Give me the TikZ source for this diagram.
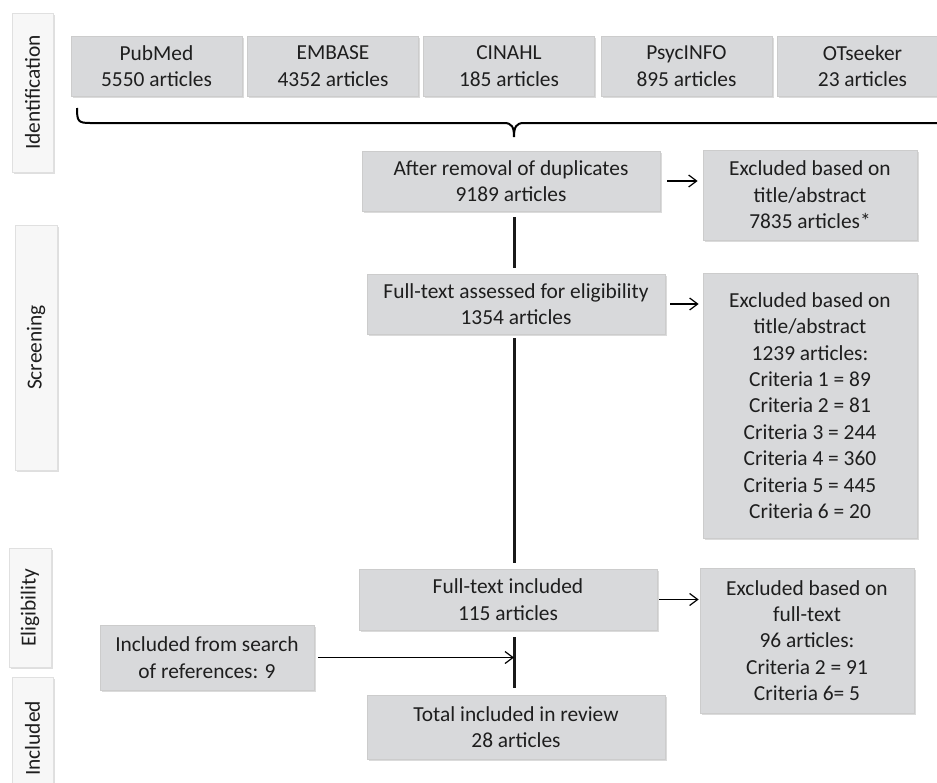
\documentclass[tikz,border=0pt]{standalone}
\usepackage{fontspec}
\setmainfont{Carlito}
\usetikzlibrary{arrows.meta,shadows}

\definecolor{boxgray}{RGB}{216,217,219}
\definecolor{sidegray}{RGB}{247,247,247}
\definecolor{inkgray}{RGB}{30,30,30}

\tikzset{
  box/.style={draw=black!20, fill=boxgray, inner sep=0pt, align=center, text=inkgray,
    font=\fontsize{10.7}{13.2}\selectfont,
    drop shadow={shadow xshift=0.8pt, shadow yshift=-0.8pt, fill=black!28}},
  stage/.style={draw=black!12, fill=sidegray, inner sep=0pt, rotate=90, text=inkgray,
    font=\fontsize{10.7}{13.2}\selectfont,
    drop shadow={shadow xshift=0.8pt, shadow yshift=-0.8pt, fill=black!25}},
  spineline/.style={line width=1.5pt, black!90},
  arr/.style={line width=0.6pt, -{Straight Barb[length=4pt, width=6pt]}},
}

\begin{document}
\begin{tikzpicture}[x=0.5pt,y=-0.5pt]
\path[use as bounding box, clip] (0,0) rectangle (937,782);
\coordinate (spine) at (514,0); % edit here for the main vertical line

% stage labels on the left
\node[stage, minimum width=79.5pt, minimum height=20.5pt] (ident) at (32.5,92.5) {Identification};
\node[stage, minimum width=122.5pt, minimum height=21pt] (screen) at (36,347.5) {Screening};
\node[stage, minimum width=59.5pt, minimum height=21pt] (elig) at (30,607.5) {Eligibility};
\node[stage, minimum width=61.5pt, minimum height=20.5pt] (inclabel) at (32.5,738.5) {Included};

% databases
\foreach \x/\db/\n [count=\i] in {156.5/PubMed/5550, 333/EMBASE/4352, 509/CINAHL/185, 686.5/PsycINFO/895, 862.5/OTseeker/23}
\node[box, minimum width=85.5pt, minimum height=30pt] (db\i) at (\x,66) {\db\\\n{} articles};

% brace under the databases
\draw[line width=1pt] (77,108) .. controls (77,121) and (78,123) .. (90,123) -- (504,123)
  .. controls (512,123) and (514,127) .. (514,137)
  .. controls (514,127) and (516,123) .. (524,123) -- (938,123) .. controls (950,123) and (951,121) .. (951,108);

% main column
\node[box, minimum width=149pt, minimum height=30pt] (dup) at (511,181) {After removal of duplicates\\9189 articles};
\node[box, minimum width=149pt, minimum height=30pt] (assess) at (516,304) {Full-text assessed for eligibility\\1354 articles};
\node[box, minimum width=149pt, minimum height=30.5pt] (incl) at (508,599.5) {Full-text included\\115 articles};
\node[box, minimum width=149pt, minimum height=32pt] (total) at (516,727) {Total included in review\\28 articles};
\node[box, minimum width=107pt, minimum height=32.5pt] (search) at (207,657.5) {Included from search\\of references: 9};

% excluded
\node[box, minimum width=107pt, minimum height=45pt] (excl1) at (810,195) {Excluded based on\\title/abstract\\7835 articles*};
\node[box, minimum width=107pt, minimum height=132.5pt] (excl2) at (810,405.5) {Excluded based on\\title/abstract\\1239 articles:\\Criteria 1 = 89\\Criteria 2 = 81\\Criteria 3 = 244\\Criteria 4 = 360\\Criteria 5 = 445\\Criteria 6 = 20};
\node[box, minimum width=107pt, minimum height=72.5pt] (excl3) at (807,640.5) {Excluded based on\\full-text\\96 articles:\\Criteria 2 = 91\\Criteria 6= 5};

\draw[spineline, shorten <=3pt, shorten >=3pt] (dup.south -| spine) -- (assess.north -| spine);
\draw[spineline, shorten <=2pt, shorten >=3pt] (assess.south -| spine) -- (incl.north -| spine);
\draw[spineline, shorten <=3.5pt, shorten >=3.5pt] (incl.south -| spine) -- (total.north -| spine);

\draw[arr, shorten <=3.5pt, shorten >=2.5pt] (dup.east) -- (dup.east -| excl1.west);
\draw[arr, shorten <=2.5pt, shorten >=2pt] (assess.east) -- (assess.east -| excl2.west);
\draw[arr, shorten <=1pt, shorten >=0.5pt] (incl.east) -- (incl.east -| excl3.west);
\draw[arr, shorten <=2pt] (search.east) -- (search.east -| spine);
\end{tikzpicture}
\end{document}
